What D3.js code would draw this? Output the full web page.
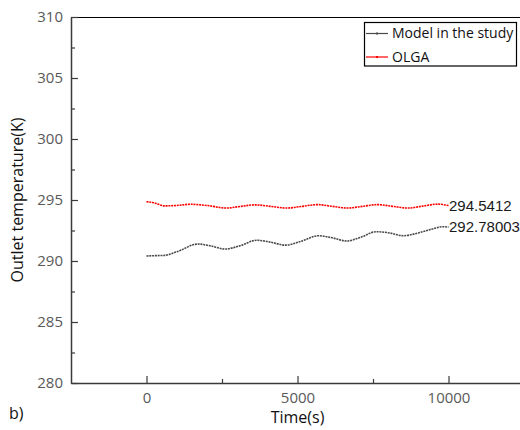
<!DOCTYPE html>
<html>
<head>
<meta charset="utf-8">
<script src="https://cdn.jsdelivr.net/npm/d3@7"></script>
<style>
  body { margin: 0; background: #fff; }
  svg { display: block; }
</style>
</head>
<body>
<svg id="chart"></svg>
<script>
// values
const modelTime = [0, 300, 600, 1000, 1700, 2100, 2600, 3100, 3650, 4100, 4600, 5100, 5700, 6150, 6630, 7100, 7600, 8050, 8500, 9000, 9500, 9800, 10000];
const modelTemp = [290.41, 290.44, 290.46, 290.75, 291.39, 291.25, 290.98, 291.25, 291.7, 291.55, 291.3, 291.6, 292.07, 291.9, 291.64, 291.95, 292.4, 292.3, 292.07, 292.3, 292.65, 292.81, 292.78];
const olgaTime = [0, 200, 600, 1000, 1450, 2000, 2650, 3100, 3600, 4100, 4650, 5150, 5650, 6150, 6650, 7150, 7650, 8150, 8650, 9150, 9650, 10000];
const olgaTemp = [294.86, 294.8, 294.52, 294.55, 294.65, 294.55, 294.34, 294.47, 294.6, 294.48, 294.34, 294.48, 294.62, 294.48, 294.34, 294.48, 294.62, 294.48, 294.34, 294.5, 294.66, 294.54];
const yTicks = [280, 285, 290, 295, 300, 305, 310];
const xTicks = [0, 5000, 10000];
const seriesNames = ["Model in the study", "OLGA"];
const seriesColors = ["#4a4a4a", "#ff0000"];
const endLabels = ["292.78003", "294.5412"];

const width = 520, height = 430;
const plotLeft = 71, plotTop = 17, plotBottom = 383, plotRight = 524;

const svg = d3.select("#chart").attr("width", width).attr("height", height);

const x = d3.scaleLinear().domain([-2500, 12500]).range([plotLeft, plotRight]);
const y = d3.scaleLinear().domain([280, 310]).range([plotBottom, plotTop]);

// top frame line
svg.append("line").attr("x1", plotLeft).attr("x2", plotRight).attr("y1", plotTop + 0.5).attr("y2", plotTop + 0.5)
    .attr("stroke", "#000").attr("stroke-width", 1.2);

function styleAxis(g) {
    g.select(".domain").attr("stroke", "#3a3a3a").attr("stroke-width", 1.5);
    g.selectAll(".tick line").attr("stroke", "#3a3a3a").attr("stroke-width", 1.2);
    g.selectAll("text").attr("fill", "#595959").attr("font-family", "Open Sans").attr("font-size", 15);
}

// minor ticks
const gxMinor = svg.append("g").attr("transform", `translate(0,${plotBottom})`)
    .call(d3.axisBottom(x).tickValues([2500, 7500]).tickSizeInner(-4).tickSizeOuter(0).tickFormat(""));
gxMinor.select(".domain").remove();
gxMinor.selectAll(".tick line").attr("stroke", "#3a3a3a").attr("stroke-width", 1.2);

const gyMinor = svg.append("g").attr("transform", `translate(${plotLeft},0)`)
    .call(d3.axisLeft(y).tickValues([282.5, 287.5, 292.5, 297.5, 302.5, 307.5]).tickSizeInner(-4).tickSizeOuter(0).tickFormat(""));
gyMinor.select(".domain").remove();
gyMinor.selectAll(".tick line").attr("stroke", "#3a3a3a").attr("stroke-width", 1.2);

const gx = svg.append("g").attr("transform", `translate(0,${plotBottom})`)
    .call(d3.axisBottom(x).tickValues(xTicks).tickSizeInner(-7).tickSizeOuter(0).tickPadding(9).tickFormat(d3.format("d")));
styleAxis(gx);

const gy = svg.append("g").attr("transform", `translate(${plotLeft},0)`)
    .call(d3.axisLeft(y).tickValues(yTicks).tickSizeInner(-7).tickSizeOuter(0).tickPadding(8).tickFormat(d3.format("d")));
styleAxis(gy);

// lines
const series = [
    {time: modelTime, temp: modelTemp},
    {time: olgaTime, temp: olgaTemp}
];
const line = d3.line().x(d => x(d[0])).y(d => y(d[1])).curve(d3.curveMonotoneX);

series.forEach((s, i) => {
    const pts = s.time.map((t, j) => [t, s.temp[j]]);
    svg.append("path").datum(pts)
        .attr("d", line)
        .attr("fill", "none")
        .attr("stroke", seriesColors[i])
        .attr("stroke-width", 1.6)
        .attr("stroke-dasharray", "2,0.8");
    const last = pts[pts.length - 1];
    svg.append("text")
        .attr("x", x(last[0]) + 0.5)
        .attr("y", y(last[1]))
        .attr("dy", "0.35em")
        .attr("font-family", "Liberation Sans, Arial, sans-serif")
        .attr("font-size", 15)
        .attr("fill", "#1a1a1a")
        .text(endLabels[i]);
});

// axis titles
svg.append("text").attr("x", x(5000)).attr("y", 423)
    .attr("text-anchor", "middle").attr("font-family", "Open Sans").attr("font-size", 16)
    .attr("fill", "#111").text("Time(s)");
svg.append("text").attr("transform", `translate(23,${(plotTop + plotBottom) / 2}) rotate(-90)`)
    .attr("text-anchor", "middle").attr("font-family", "Open Sans").attr("font-size", 16)
    .attr("fill", "#111").text("Outlet temperature(K)");
svg.append("text").attr("x", 9).attr("y", 419)
    .attr("font-family", "Open Sans").attr("font-size", 16)
    .attr("fill", "#111").text("b)");

// legend
const legend = svg.append("g");
legend.append("rect").attr("x", 364.5).attr("y", 22.5).attr("width", 152).attr("height", 43.5)
    .attr("fill", "#fff").attr("stroke", "#000").attr("stroke-width", 1.2);
seriesNames.forEach((name, i) => {
    const ly = 33.5 + i * 23.5;
    legend.append("line").attr("x1", 366).attr("x2", 388).attr("y1", ly).attr("y2", ly)
        .attr("stroke", seriesColors[i]).attr("stroke-width", 1.2);
    legend.append("rect").attr("x", 376).attr("y", ly - 1).attr("width", 2).attr("height", 2)
        .attr("fill", seriesColors[i]);
    legend.append("text").attr("x", 392).attr("y", ly).attr("dy", "0.35em")
        .attr("font-family", "Open Sans").attr("font-size", 14).attr("fill", "#111").text(name);
});
</script>
</body>
</html>
